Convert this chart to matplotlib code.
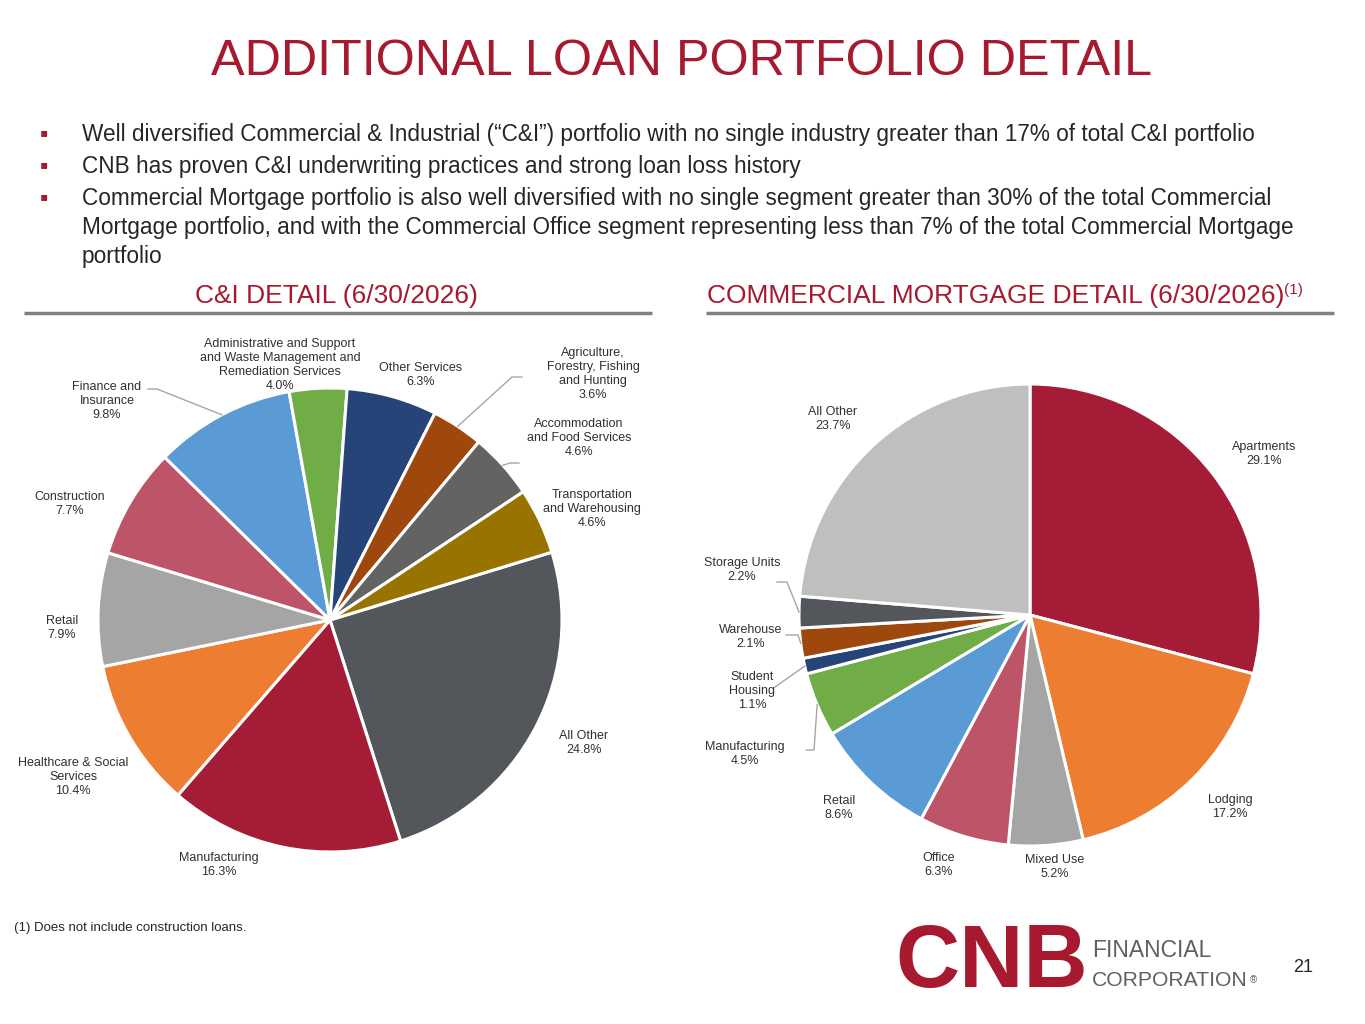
import matplotlib
matplotlib.use("Agg")
import matplotlib.pyplot as plt
import numpy as np

# ---- data -------------------------------------------------------------
ci_labels = ["All Other", "Manufacturing", "Healthcare & Social\nServices", "Retail",
             "Construction", "Finance and\nInsurance",
             "Administrative and Support\nand Waste Management and\nRemediation Services",
             "Other Services", "Agriculture,\nForestry, Fishing\nand Hunting",
             "Accommodation\nand Food Services", "Transportation\nand Warehousing"]
ci_values = [24.8, 16.3, 10.4, 7.9, 7.7, 9.8, 4.0, 6.3, 3.6, 4.6, 4.6]

cm_labels = ["Apartments", "Lodging", "Mixed Use", "Office", "Retail", "Manufacturing",
             "Student\nHousing", "Warehouse", "Storage Units", "All Other"]
cm_values = [29.1, 17.2, 5.2, 6.3, 8.6, 4.5, 1.1, 2.1, 2.2, 23.7]

bullets = [
    ["Well diversified Commercial & Industrial (\u201cC&I\u201d) portfolio with no single industry greater than 17% of total C&I portfolio"],
    ["CNB has proven C&I underwriting practices and strong loan loss history"],
    ["Commercial Mortgage portfolio is also well diversified with no single segment greater than 30% of the total Commercial",
     "Mortgage portfolio, and with the Commercial Office segment representing less than 7% of the total Commercial Mortgage",
     "portfolio"],
]

# ---- style ------------------------------------------------------------
W, H = 1365, 1024
RED = "#A6192E"
TXT = "#262626"
LBL = "#303030"
LEAD = "#A6A6A6"
FONT = ["Liberation Sans", "DejaVu Sans"]
plt.rcParams["font.family"] = FONT

ci_colors = ["#53565A", "#A51C36", "#ED7D31", "#A5A5A5", "#BE5468", "#5B9BD5",
             "#70AD47", "#264478", "#9E480E", "#636363", "#997300"]
cm_colors = ["#A51C36", "#ED7D31", "#A5A5A5", "#BE5468", "#5B9BD5", "#70AD47",
             "#264478", "#9E480E", "#53565A", "#BFBFBF"]

# label centres (pixels, from top-left) and leader elbows
ci_label_pos = [(584, 743), (219, 865), (73, 777), (62, 628), (70, 504), (107, 401),
                (280, 365), (421, 375), (593, 374), (579, 438), (592, 509)]
ci_leaders = {5: [(148, 389), (157, 389)], 8: [(522, 377), (512, 377)],
              9: [(519, 463), (510, 463)]}
cm_label_pos = [(1264, 454), (1230, 807), (1055, 867), (939, 865), (839, 808),
                (745, 754), (752, 691), (751, 637), (742, 570), (833, 419)]
cm_leaders = {5: [(806, 750), (814, 750)], 6: [(775, 687), (775, 687)],
              7: [(786, 635), (798, 635)], 8: [(777, 582), (787, 582)]}


def Y(y):
    return H - y


fig = plt.figure(figsize=(W / 100, H / 100), dpi=100)
ax = fig.add_axes([0, 0, 1, 1])


def draw_pie(values, labels, colors, center, radius, start, label_pos, leaders):
    wedges, _ = ax.pie(values, colors=colors, startangle=start, counterclock=False,
                       center=(center[0], Y(center[1])), radius=radius,
                       wedgeprops=dict(edgecolor="white", linewidth=2.2))
    for i, (lab, val) in enumerate(zip(labels, values)):
        x, y = label_pos[i]
        ax.text(x, Y(y), "%s\n%.1f%%" % (lab, val), ha="center", va="center",
                multialignment="center", fontsize=9, color=LBL, linespacing=1.2)
    for i, pts in leaders.items():
        w = wedges[i]
        mid = np.deg2rad((w.theta1 + w.theta2) / 2)
        ex = center[0] + radius * np.cos(mid)
        ey = Y(center[1]) + radius * np.sin(mid)
        xs = [p[0] for p in pts] + [ex]
        ys = [Y(p[1]) for p in pts] + [ey]
        ax.plot(xs, ys, color=LEAD, lw=1)


draw_pie(ci_values, ci_labels, ci_colors, (330, 620), 232, 17, ci_label_pos, ci_leaders)
draw_pie(cm_values, cm_labels, cm_colors, (1030, 615), 231, 90, cm_label_pos, cm_leaders)

# ---- slide text -----------------------------------------------------
ax.text(682, Y(75), "ADDITIONAL LOAN PORTFOLIO DETAIL", ha="center", va="baseline",
        fontsize=36.3, color=RED)

bullet_y = [141, 173, 205]
for by, lines in zip(bullet_y, bullets):
    ax.text(44, Y(by - 1), "\u25aa", ha="center", va="baseline", fontsize=17, color=RED)
    for k, line in enumerate(lines):
        ax.text(82, Y(by + 29 * k), line, ha="left", va="baseline", fontsize=16.25,
                color=TXT)

ax.text(336, Y(303), "C&I DETAIL (6/30/2026)", ha="center", va="baseline",
        fontsize=19, color=RED)
ax.text(707, Y(303), "COMMERCIAL MORTGAGE DETAIL (6/30/2026)", ha="left", va="baseline",
        fontsize=19, color=RED)
ax.text(1284, Y(294), "(1)", ha="left", va="baseline", fontsize=11, color=RED)
ax.plot([24, 652], [Y(313), Y(313)], color="#808080", lw=2.5, solid_capstyle="butt")
ax.plot([706, 1334], [Y(313), Y(313)], color="#808080", lw=2.5, solid_capstyle="butt")

ax.text(14, Y(928), "(1) Does not include construction loans.", ha="left", va="center",
        fontsize=9.5, color=TXT)
ax.text(1303, Y(967), "21", ha="center", va="center", fontsize=13, color=TXT)

# logo
ax.text(895, Y(987), "CNB", ha="left", va="baseline", fontsize=64, fontweight="bold",
        color=RED)
ax.text(1092, Y(957), "FINANCIAL", ha="left", va="baseline", fontsize=16.5, color="#5F6062")
ax.text(1092, Y(986), "CORPORATION", ha="left", va="baseline", fontsize=15.2, color="#5F6062")
ax.text(1250, Y(983), "\u00ae", ha="left", va="baseline", fontsize=7, color="#5F6062")

ax.set_xlim(0, W)
ax.set_ylim(0, H)
ax.set_aspect("auto")
ax.set_axis_off()

fig.savefig("out.png", dpi=100, facecolor="white")
